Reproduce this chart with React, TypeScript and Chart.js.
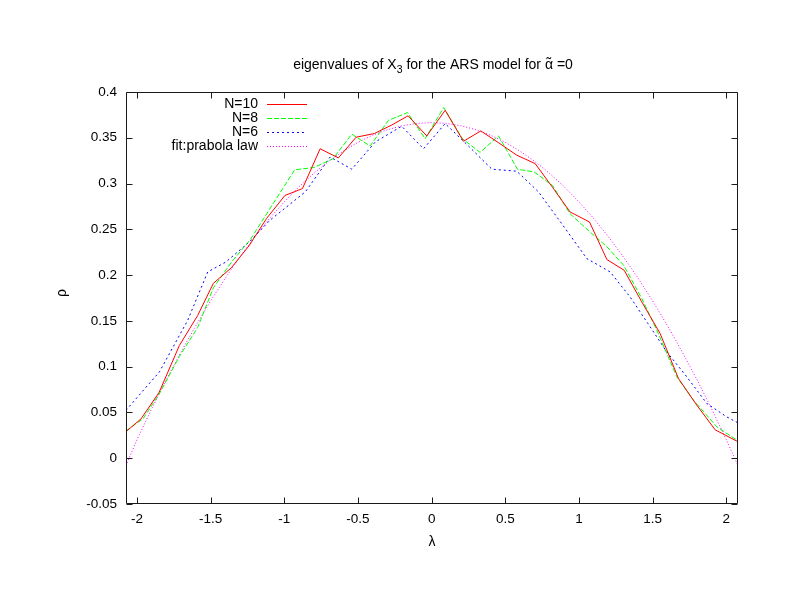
import React, { useEffect, useRef } from "react";
import { Chart, registerables } from "chart.js";

Chart.register(...registerables);

const FONT = '"Liberation Sans", Arial, Helvetica, sans-serif';

// N=10 (red, solid)
const n10X = [-2.075, -1.973, -1.85, -1.713, -1.588, -1.482, -1.36, -1.24, -1.12, -0.996, -0.877, -0.757, -0.633, -0.513, -0.39, -0.27, -0.16, -0.033, 0.092, 0.216, 0.334, 0.456, 0.578, 0.703, 0.82, 0.94, 1.072, 1.19, 1.307, 1.427, 1.552, 1.676, 1.8, 1.925, 2.08];
const n10Y = [0.029, 0.043, 0.072, 0.123, 0.156, 0.191, 0.208, 0.232, 0.262, 0.287, 0.2945, 0.338, 0.328, 0.3506, 0.3546, 0.364, 0.374, 0.352, 0.38, 0.3462, 0.3575, 0.3444, 0.331, 0.3218, 0.296, 0.269, 0.258, 0.217, 0.2053, 0.1707, 0.136, 0.087, 0.058, 0.031, 0.018];

// N=8 (green, dashed)
const n8X = [-2.075, -1.96, -1.85, -1.713, -1.588, -1.482, -1.36, -1.23, -1.1, -0.93, -0.8, -0.67, -0.542, -0.418, -0.293, -0.164, -0.044, 0.082, 0.209, 0.329, 0.454, 0.583, 0.696, 0.82, 0.94, 1.076, 1.19, 1.303, 1.427, 1.529, 1.665, 1.778, 1.937, 2.08];
const n8Y = [0.03, 0.043, 0.07, 0.111, 0.143, 0.186, 0.214, 0.239, 0.272, 0.315, 0.3175, 0.327, 0.354, 0.341, 0.369, 0.3775, 0.349, 0.383, 0.349, 0.334, 0.352, 0.3156, 0.3127, 0.298, 0.267, 0.247, 0.231, 0.2108, 0.1744, 0.1398, 0.0888, 0.0633, 0.0342, 0.019];

// N=6 (blue, dotted)
const n6X = [-2.075, -1.848, -1.656, -1.52, -1.396, -1.237, -1.097, -0.857, -0.689, -0.542, -0.382, -0.203, -0.055, 0.092, 0.25, 0.409, 0.578, 0.725, 0.884, 1.054, 1.212, 1.348, 1.484, 1.597, 1.733, 1.869, 2.005, 2.08];
const n6Y = [0.0524, 0.0943, 0.1507, 0.2035, 0.2144, 0.2363, 0.26, 0.291, 0.329, 0.3157, 0.3455, 0.3626, 0.338, 0.3655, 0.341, 0.3157, 0.3135, 0.291, 0.256, 0.218, 0.2035, 0.176, 0.1434, 0.116, 0.0888, 0.0597, 0.045, 0.0386];

// fit: parabola law (magenta, fine dots)
const fitX = [-2.075, -2.0, -1.9, -1.8, -1.7, -1.6, -1.5, -1.4, -1.3, -1.2, -1.1, -1.0, -0.9, -0.8, -0.7, -0.6, -0.5, -0.4, -0.3, -0.2, -0.1, 0, 0.1, 0.2, 0.3, 0.4, 0.5, 0.6, 0.7, 0.8, 0.9, 1.0, 1.1, 1.2, 1.3, 1.4, 1.5, 1.6, 1.7, 1.8, 1.9, 2.0, 2.08];
const fitY = [-0.008, 0.0204, 0.0542, 0.0862, 0.1165, 0.1451, 0.1719, 0.197, 0.2203, 0.242, 0.2619, 0.2801, 0.2965, 0.3112, 0.3242, 0.3354, 0.345, 0.3528, 0.3588, 0.3631, 0.3657, 0.3666, 0.3657, 0.3631, 0.3588, 0.3528, 0.345, 0.3354, 0.3242, 0.3112, 0.2965, 0.2801, 0.2619, 0.242, 0.2203, 0.197, 0.1719, 0.1451, 0.1165, 0.0862, 0.0542, 0.0204, -0.008];

const seriesLabels = ["N=10", "N=8", "N=6", "fit:prabola law"];
const seriesColors = ["#ff0000", "#00ff00", "#0000ff", "#ff00ff"];
const seriesDash: number[][] = [[], [5, 2], [2, 3], [1, 2]];
const legendY = [104.3, 118.1, 131.9, 145.7];

const X_MIN = -2.075;
const X_MAX = 2.08;
const Y_MIN = -0.05;
const Y_MAX = 0.4;

function pts(xs: number[], ys: number[]) {
  return xs.map((x, i) => ({ x, y: ys[i] }));
}

export default function App() {
  const ref = useRef<HTMLCanvasElement | null>(null);

  useEffect(() => {
    document.body.style.margin = "0";
    const canvas = ref.current;
    if (!canvas) return;

    const gnuPlugin = {
      id: "gnuDecor",
      afterDatasetsDraw(chart: any) {
        const { ctx, chartArea: a, scales } = chart;
        const L = Math.round(a.left) + 0.5;
        const R = Math.round(a.right) - 0.5;
        const T = Math.round(a.top) + 0.5;
        const B = Math.round(a.bottom) - 0.5;
        ctx.save();
        ctx.strokeStyle = "#1a1a1a";
        ctx.lineWidth = 1;
        ctx.setLineDash([]);
        ctx.beginPath();
        ctx.rect(L, T, R - L, B - T);
        const tl = 6;
        scales.x.ticks.forEach((t: any) => {
          const px = Math.round(scales.x.getPixelForValue(t.value)) + 0.5;
          ctx.moveTo(px, B);
          ctx.lineTo(px, B - tl);
          ctx.moveTo(px, T);
          ctx.lineTo(px, T + tl);
        });
        scales.y.ticks.forEach((t: any) => {
          const py = Math.round(scales.y.getPixelForValue(t.value)) + 0.5;
          ctx.moveTo(L, py);
          ctx.lineTo(L + tl, py);
          ctx.moveTo(R, py);
          ctx.lineTo(R - tl, py);
        });
        ctx.stroke();
        ctx.restore();
      },
      afterDraw(chart: any) {
        const { ctx } = chart;
        ctx.save();
        ctx.fillStyle = "#000";
        // Title
        const big = `14px ${FONT}`;
        const small = `10.5px ${FONT}`;
        const parts: { t: string; f: string; dy: number }[] = [
          { t: "eigenvalues of X", f: big, dy: 0 },
          { t: "3", f: small, dy: 4 },
          { t: " for the ARS model for ", f: big, dy: 0 },
          { t: "\u03b1", f: big, dy: 0 },
          { t: " =0", f: big, dy: 0 },
        ];
        let total = 0;
        const widths = parts.map((p) => {
          ctx.font = p.f;
          const w = ctx.measureText(p.t).width;
          total += w;
          return w;
        });
        let x = 433 - total / 2;
        const baseY = 69;
        ctx.textBaseline = "alphabetic";
        ctx.textAlign = "left";
        parts.forEach((p, i) => {
          ctx.font = p.f;
          ctx.fillText(p.t, x, baseY + p.dy);
          if (p.t === "\u03b1") {
            ctx.textAlign = "center";
            ctx.fillText("\u02dc", x + widths[i] / 2, baseY - 1);
            ctx.textAlign = "left";
          }
          x += widths[i];
        });

        // axis labels
        ctx.font = big;
        ctx.textAlign = "center";
        ctx.textBaseline = "middle";
        ctx.fillText("\u03bb", 432, 542);
        ctx.save();
        ctx.translate(62, 293);
        ctx.rotate(-Math.PI / 2);
        ctx.fillText("\u03c1", 0, 0);
        ctx.restore();

        // legend
        seriesLabels.forEach((lab, i) => {
          const y = legendY[i];
          ctx.font = big;
          ctx.textAlign = "right";
          ctx.textBaseline = "middle";
          ctx.fillStyle = "#000";
          ctx.fillText(lab, 258, y);
          ctx.beginPath();
          ctx.strokeStyle = seriesColors[i];
          ctx.lineWidth = 1;
          ctx.setLineDash(seriesDash[i]);
          const yy = Math.round(y) + 0.5;
          ctx.moveTo(267, yy);
          ctx.lineTo(307, yy);
          ctx.stroke();
        });
        ctx.restore();
      },
    };

    const mk = (xs: number[], ys: number[], i: number) => ({
      label: seriesLabels[i],
      data: pts(xs, ys),
      borderColor: seriesColors[i],
      backgroundColor: seriesColors[i],
      borderWidth: 1,
      borderDash: seriesDash[i],
      pointRadius: 0,
      pointHoverRadius: 0,
      tension: 0,
      fill: false,
      showLine: true,
    });

    const chart = new Chart(canvas, {
      type: "line",
      data: {
        datasets: [
          mk(n10X, n10Y, 0),
          mk(n8X, n8Y, 1),
          mk(n6X, n6Y, 2),
          mk(fitX, fitY, 3),
        ],
      },
      options: {
        animation: false,
        responsive: false,
        devicePixelRatio: 1,
        events: [],
        layout: { padding: { left: 0, top: 92, right: 47, bottom: 72 } },
        plugins: {
          legend: { display: false },
          title: { display: false },
          tooltip: { enabled: false },
        },
        scales: {
          x: {
            type: "linear",
            min: X_MIN,
            max: X_MAX,
            grid: { display: false, drawTicks: false },
            border: { display: false },
            ticks: {
              stepSize: 0.5,
              includeBounds: false,
              padding: 7,
              color: "#000",
              font: { family: FONT, size: 13.5 },
              maxRotation: 0,
              autoSkip: false,
              callback: (v: any) => String(Number(Number(v).toFixed(2))),
            },
            afterFit: (s: any) => {
              s.height = 30;
              s.paddingLeft = 0;
              s.paddingRight = 0;
              s.paddingTop = 0;
              s.paddingBottom = 0;
            },
          },
          y: {
            type: "linear",
            min: Y_MIN,
            max: Y_MAX,
            grid: { display: false, drawTicks: false },
            border: { display: false },
            ticks: {
              stepSize: 0.05,
              includeBounds: false,
              padding: 9,
              color: "#000",
              font: { family: FONT, size: 13.5 },
              autoSkip: false,
              callback: (v: any) => String(Number(Number(v).toFixed(2))),
            },
            afterFit: (s: any) => {
              s.width = 126;
              s.paddingLeft = 0;
              s.paddingRight = 0;
              s.paddingTop = 0;
              s.paddingBottom = 0;
            },
          },
        },
      },
      plugins: [gnuPlugin],
    } as any);

    return () => chart.destroy();
  }, []);

  return (
    <div style={{ position: "absolute", left: 0, top: 0, width: 785, height: 606, background: "#fff" }}>
      <canvas ref={ref} width={785} height={606} style={{ display: "block", width: 785, height: 606 }} />
    </div>
  );
}
